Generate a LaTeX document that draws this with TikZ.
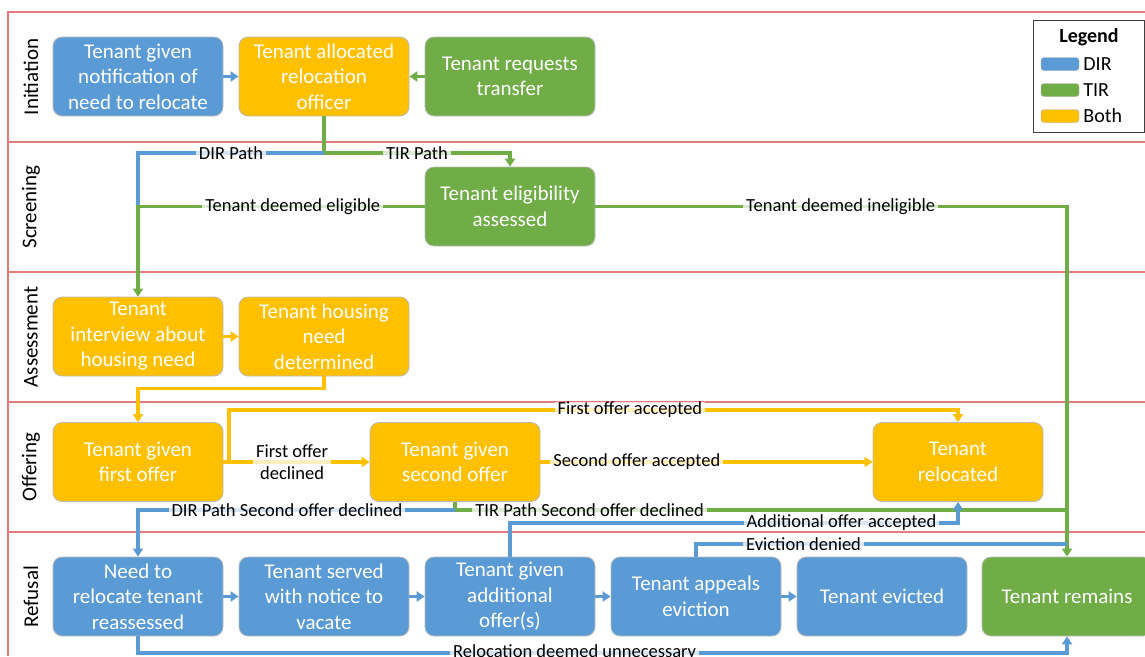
\documentclass[tikz,border=0pt]{standalone}
\usepackage{fontspec}
\setmainfont{Carlito}
\usetikzlibrary{arrows.meta}

\definecolor{dirblue}{HTML}{5B9BD5}
\definecolor{tirgreen}{HTML}{70AD47}
\definecolor{bothgold}{HTML}{FFC000}
\definecolor{lanered}{HTML}{E47B7B}

\tikzset{
  stage/.style={draw=gray!55, line width=0.8pt, rounded corners=9pt,
    minimum width=170pt, minimum height=79pt, inner sep=2pt, align=center,
    text=white, font=\fontsize{21}{25.5}\selectfont},
  dirstage/.style={stage, fill=dirblue},
  tirstage/.style={stage, fill=tirgreen},
  bothstage/.style={stage, fill=bothgold},
  link/.style={line width=3.2pt},
  flow/.style={link, -{Triangle[length=8pt,width=10pt]}},
  dirline/.style={link, draw=dirblue},
  tirline/.style={link, draw=tirgreen},
  dirflow/.style={flow, draw=dirblue},
  tirflow/.style={flow, draw=tirgreen},
  bothflow/.style={flow, draw=bothgold},
  pathlbl/.style={font=\fontsize{18.5}{21.5}\selectfont, text=black,
    fill=white, fill opacity=0.75, text opacity=1, inner xsep=3pt, inner ysep=0pt},
  lanename/.style={rotate=90, font=\fontsize{21}{24}\selectfont},
  laneline/.style={draw=lanered, line width=1.2pt},
  swatch/.style={draw=gray!60, rounded corners=3pt, minimum width=38pt,
    minimum height=13pt, inner sep=0pt},
  keytext/.style={anchor=west, inner sep=4pt, font=\fontsize{20}{22}\selectfont},
}

\begin{document}
\begin{tikzpicture}[x=1pt, y=-1pt]
  \useasboundingbox (0,0) rectangle (1145,656);

  % swimlanes
  \draw[laneline] (8,656) -- (8,12) -- (1145,12);
  \draw[laneline] (8,142) -- (1145,142);
  \draw[laneline] (8,272) -- (1145,272);
  \draw[laneline] (8,402) -- (1145,402);
  \draw[laneline] (8,532) -- (1145,532);
  \node[lanename] (initlane) at (31,77) {Initiation};
  \node[lanename] (screenlane) at (31,207) {Screening};
  \node[lanename] (assesslane) at (31,337) {Assessment};
  \node[lanename] (offerlane) at (31,467) {Offering};
  \node[lanename] (refuselane) at (31,597) {Refusal};

  % Initiation
  \node[dirstage] (notify) at (138,76.5) {Tenant given\\notification of\\need to relocate};
  \node[bothstage] (officer) at (324,76.5) {Tenant allocated\\relocation\\officer};
  \node[tirstage] (request) at (510,76.5) {Tenant requests\\transfer};

  % Screening
  \node[tirstage] (elig) at (510,206.5) {Tenant eligibility\\assessed};

  % Assessment
  \node[bothstage] (interview) at (138,336.5) {Tenant\\interview about\\housing need};
  \node[bothstage] (needdet) at (324,336.5) {Tenant housing\\need\\determined};

  % Offering
  \node[bothstage] (offer1) at (138,462) {Tenant given\\first offer};
  \node[bothstage] (offer2) at (455,462) {Tenant given\\second offer};
  \node[bothstage] (relocated) at (958,462) {Tenant\\relocated};

  % Refusal
  \node[dirstage] (reassess) at (138,596.5) {Need to\\relocate tenant\\reassessed};
  \node[dirstage] (served) at (324,596.5) {Tenant served\\with notice to\\vacate};
  \node[dirstage] (additional) at (510,596.5) {Tenant given\\additional\\offer(s)};
  \node[dirstage] (appeal) at (696,596.5) {Tenant appeals\\eviction};
  \node[dirstage] (evicted) at (882,596.5) {Tenant evicted};
  \node[tirstage] (remains) at (1067,596.5) {Tenant remains};

  % Legend
  \node[draw=gray!50!black, line width=1pt, minimum width=111pt,
    minimum height=112pt, inner sep=0pt] (legend) at (1088.5,76) {};
  \node[font=\bfseries\fontsize{20}{22}\selectfont] (legendtitle) at (1089,37) {Legend};
  \node[swatch, fill=dirblue] (dirkey) at (1060,64) {};
  \node[keytext] (dirkeytext) at (dirkey.east) {DIR};
  \node[swatch, fill=tirgreen] (tirkey) at (1060,90) {};
  \node[keytext] (tirkeytext) at (tirkey.east) {TIR};
  \node[swatch, fill=bothgold] (bothkey) at (1060,116) {};
  \node[keytext] (bothkeytext) at (bothkey.east) {Both};

  % connectors
  \draw[dirflow] (notify) -- (officer);
  \draw[tirflow] (request) -- (officer);

  \coordinate (split) at (324,153);
  \coordinate (merge) at (138,206.5);
  \draw[tirline] (officer.south) -- (split);
  \draw[dirline] (split) -- node[pathlbl]{DIR Path} (merge |- split) -- (merge);
  \draw[tirflow] (split) -- node[pathlbl]{TIR Path} (elig.north |- split) -- (elig.north);
  \draw[tirflow] (elig.west) -- node[pathlbl, pos=0.46]{Tenant deemed eligible} (merge) -- (interview.north);
  \draw[tirflow] (elig.east) -- node[pathlbl, pos=0.52]{Tenant deemed ineligible} (elig.east -| remains) -- (remains.north);

  \draw[bothflow] (interview) -- (needdet);
  \draw[bothflow] (needdet.south) -- ++(0,12) -| (offer1.north);

  \draw[bothflow] (offer1.east) -- node[pathlbl, align=center, pos=0.47]{First offer\\declined} (offer2.west);
  \coordinate (acc1) at (229,462);
  \draw[bothflow] (acc1) -- (acc1 |- 0,410) -- node[pathlbl, pos=0.55]{First offer accepted} (relocated.north |- 0,410) -- (relocated.north);
  \draw[bothflow] (offer2.east) -- node[pathlbl, pos=0.29]{Second offer accepted} (relocated.west);

  \coordinate (decl2) at (455,510);
  \draw[tirline] (offer2.south) -- (decl2) -- node[pathlbl, pos=0.22]{TIR Path Second offer declined} (decl2 -| remains);
  \draw[dirflow] (decl2) -- node[pathlbl, pos=0.53]{DIR Path Second offer declined} (decl2 -| reassess) -- (reassess.north);

  \draw[dirflow] (reassess) -- (served);
  \draw[dirflow] (served) -- (additional);
  \draw[dirflow] (additional) -- (appeal);
  \draw[dirflow] (appeal) -- (evicted);

  \draw[dirflow] (additional.north) -- (additional.north |- 0,523) -- node[pathlbl, pos=0.74]{Additional offer accepted} (relocated.south |- 0,523) -- (relocated.south);
  \draw[dirline] (appeal.north) -- (appeal.north |- 0,544) -- node[pathlbl, pos=0.29]{Eviction denied} (remains.north |- 0,544);
  \draw[dirflow] (reassess.south) -- (reassess.south |- 0,653) -- node[pathlbl, pos=0.47]{Relocation deemed unnecessary} (remains.south |- 0,653) -- (remains.south);
\end{tikzpicture}
\end{document}
